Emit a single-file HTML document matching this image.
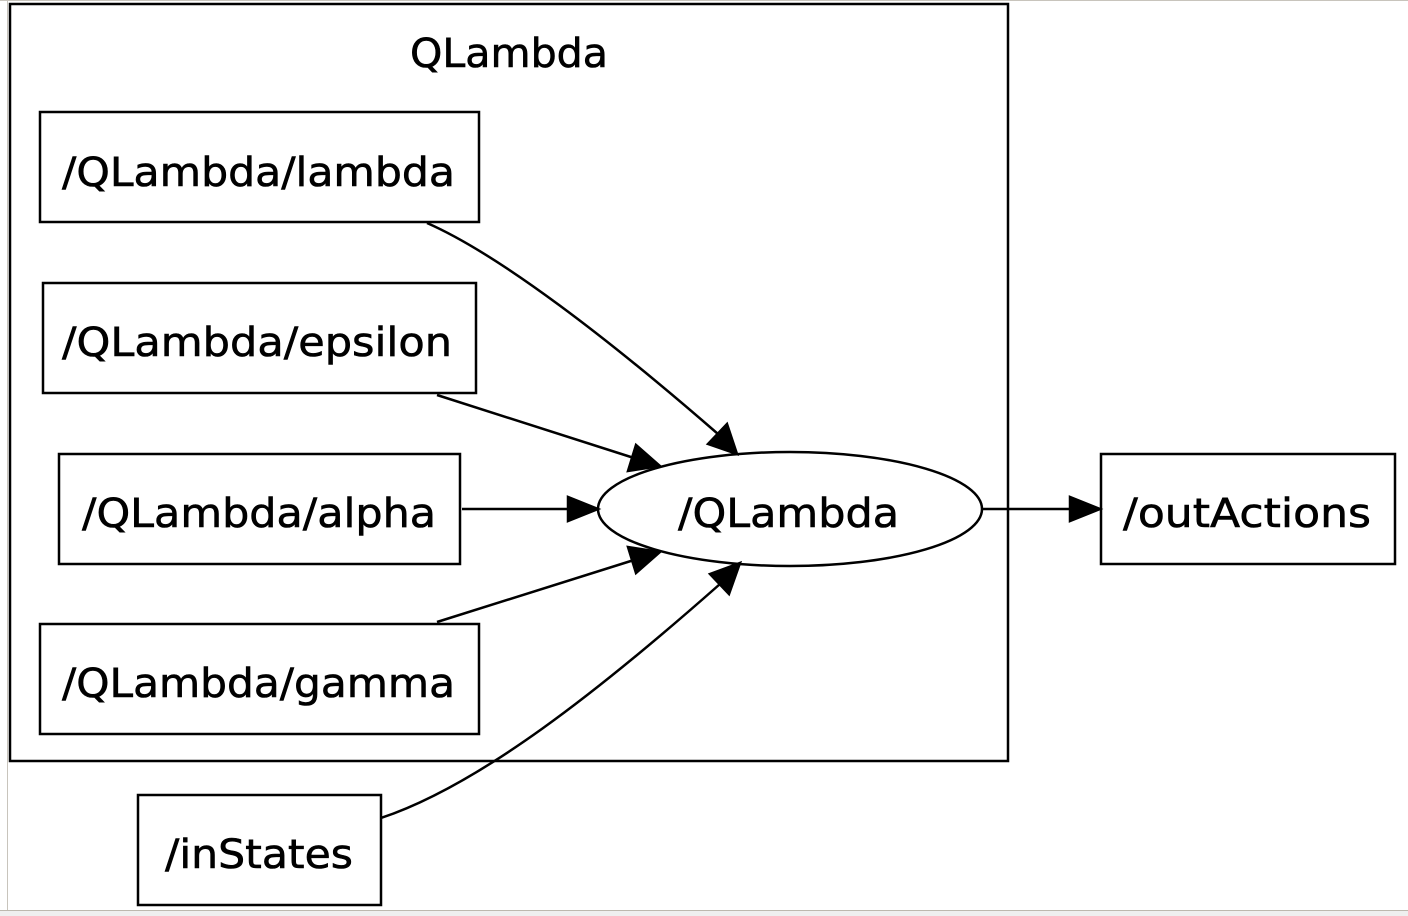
<!DOCTYPE html>
<html><head><style>
html,body{margin:0;padding:0;background:#fff;}
svg{display:block;}
text{font-family:"DejaVu Sans","Liberation Sans",sans-serif;font-size:40px;fill:#000;stroke:#000;stroke-width:0.6px;}
</style></head><body>
<svg width="1408" height="916" viewBox="0 0 1408 916" xmlns="http://www.w3.org/2000/svg">
<rect x="0" y="0" width="1408" height="916" fill="#fff"/>
<line x1="0" y1="0.5" x2="1408" y2="0.5" stroke="#c8c4bc" stroke-width="1"/>
<line x1="7.5" y1="0" x2="7.5" y2="910" stroke="#c8c4bc" stroke-width="1"/>
<rect x="0" y="910" width="1408" height="6" fill="#efefef"/>
<line x1="0" y1="910.5" x2="1408" y2="910.5" stroke="#bdb8ae" stroke-width="1"/>
<g fill="none" stroke="#000" stroke-width="2.5">
<rect x="10" y="4" width="998" height="757"/>
<rect x="40" y="112" width="439" height="110"/>
<rect x="43" y="283" width="433" height="110"/>
<rect x="59" y="454" width="401" height="110"/>
<rect x="40" y="624" width="439" height="110"/>
<rect x="138" y="795" width="243" height="110"/>
<rect x="1101" y="454" width="294" height="110"/>
<ellipse cx="790" cy="509" rx="192" ry="57"/>
<path d="M427,223 C500,255 610,340 718,434"/>
<path d="M437,395 L634,458"/>
<path d="M462,509 L568,509"/>
<path d="M437,622 L634,560"/>
<path d="M381,818 C480,785 600,690 720,584"/>
<path d="M983,509 L1070,509"/>
</g>
<g fill="#000" stroke="#000" stroke-width="2.5">
<polygon points="708,444 727,424 737,454"/>
<polygon points="628,471 636,445 660,466"/>
<polygon points="568,497 568,521 598,509"/>
<polygon points="628,547 636,573 660,552"/>
<polygon points="710,574 729,594 740,563"/>
<polygon points="1070,497 1070,521 1100,509"/>
</g>
<text x="410" y="67" textLength="198" lengthAdjust="spacingAndGlyphs">QLambda</text>
<text x="62" y="186" textLength="393" lengthAdjust="spacingAndGlyphs">/QLambda/lambda</text>
<text x="62" y="356" textLength="390" lengthAdjust="spacingAndGlyphs">/QLambda/epsilon</text>
<text x="82" y="527" textLength="354" lengthAdjust="spacingAndGlyphs">/QLambda/alpha</text>
<text x="62" y="697" textLength="393" lengthAdjust="spacingAndGlyphs">/QLambda/gamma</text>
<text x="165" y="868" textLength="188" lengthAdjust="spacingAndGlyphs">/inStates</text>
<text x="678" y="527" textLength="221" lengthAdjust="spacingAndGlyphs">/QLambda</text>
<text x="1123" y="527" textLength="248" lengthAdjust="spacingAndGlyphs">/outActions</text>
</svg>
</body></html>
